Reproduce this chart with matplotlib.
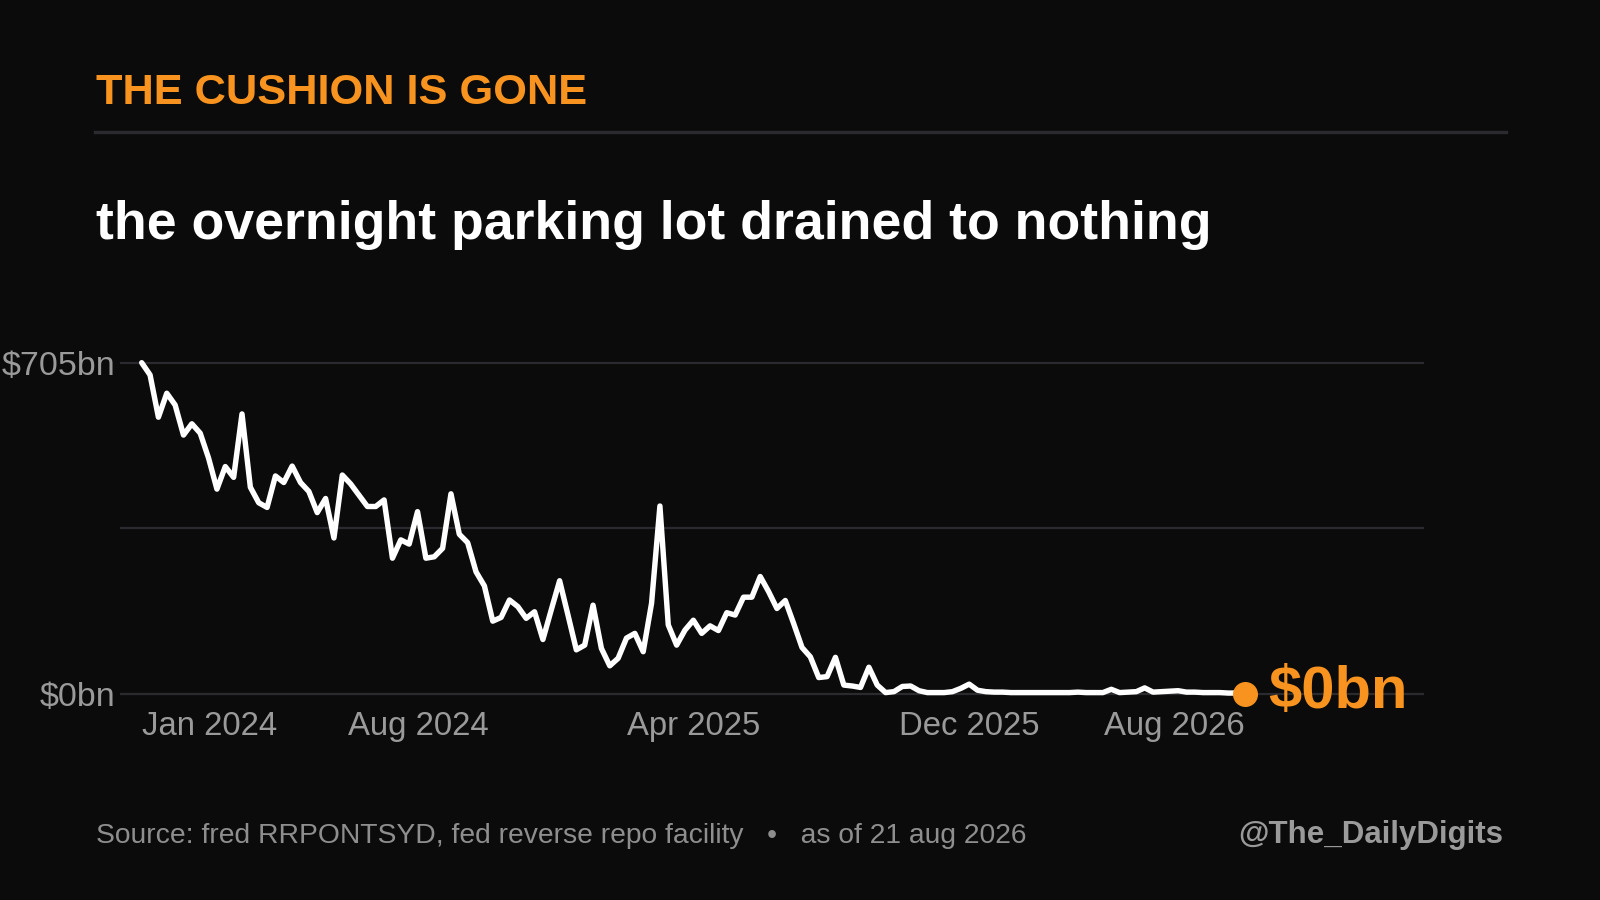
import numpy as np
import pandas as pd
import matplotlib
matplotlib.use("Agg")
import matplotlib.pyplot as plt
import matplotlib.transforms as mtransforms

plt.rcParams['font.family'] = ['Liberation Sans', 'DejaVu Sans']

# --- data: weekly overnight reverse repo balance, $bn ---
start_date = "2023-12-01"
end_date = "2026-08-01"
rrp_bn = [
    705, 679, 589, 640, 615, 551, 575, 555, 502, 436,
    484, 461, 596, 440, 407, 397, 464, 450, 485, 450,
    431, 386, 416, 332, 466, 447, 423, 399, 399, 413,
    289, 328, 319, 388, 289, 292, 310, 426, 340, 322,
    260, 230, 155, 163, 200, 186, 161, 175, 116, 179,
    241, 168, 94, 104, 189, 97, 60, 76, 119, 129,
    90, 193, 400, 147, 104, 136, 157, 129, 145, 135,
    173, 168, 206, 206, 250, 218, 182, 199, 150, 99,
    79, 35, 37, 78, 19, 17, 14, 57, 19, 3,
    5, 16, 17, 7, 3, 3, 3, 5, 12, 21,
    8, 5, 4, 4, 3, 3, 3, 3, 3, 3,
    3, 3, 4, 3, 3, 3, 10, 3, 4, 5,
    13, 4, 5, 6, 7, 4, 4, 3, 3, 3,
    2, 2, 0,
]
dates = pd.date_range(start_date, end_date, periods=len(rrp_bn))

tick_dates = pd.to_datetime(["2023-12-01", "2024-08-01", "2025-04-01", "2025-12-01", "2026-08-01"])
tick_labels = ["Jan 2024", "Aug 2024", "Apr 2025", "Dec 2025", "Aug 2026"]
y_ticks = [0, 352.5, 705]
y_tick_labels = ["$0bn", "", "$705bn"]

title = "THE CUSHION IS GONE"
subtitle = "the overnight parking lot drained to nothing"
source = "Source: fred RRPONTSYD, fed reverse repo facility   \u2022   as of 21 aug 2026"
handle = "@The_DailyDigits"

BG = "#0b0b0b"
ORANGE = "#f7931e"
GRID = "#2b2b2f"
TICK = "#9a9a9a"
FOOT = "#8e8e8e"

W, H = 1600, 900
fig = plt.figure(figsize=(16, 9), dpi=100, facecolor=BG)

# axes placed in pixel terms: gridlines span x 120..1424, y 0 -> px 694, 705 -> px 362.7
ax = fig.add_axes([120 / W, 1 - 720 / H, (1424 - 120) / W, (720 - 300) / H])
ax.set_facecolor(BG)

px_per_unit = (694 - 362.7) / 705
ax.set_ylim(-(720 - 694) / px_per_unit, 705 + (362.7 - 300) / px_per_unit)

d0, d1 = dates[0], dates[-1]
span_days = (d1 - d0).days
px_per_day = (1245 - 141.7) / span_days
ax.set_xlim(d0 - pd.Timedelta(days=(141.7 - 120) / px_per_day),
            d1 + pd.Timedelta(days=(1424 - 1245) / px_per_day))

for s in ax.spines.values():
    s.set_visible(False)

ax.set_yticks(y_ticks)
ax.set_yticklabels(y_tick_labels, color=TICK, fontsize=24.5)
ax.tick_params(axis="y", length=0, pad=3.6)
ax.grid(axis="y", color=GRID, linewidth=1.6)
ax.set_axisbelow(True)
ax.set_xticks([])

# x labels, first/last anchored to the data ends
xtrans = mtransforms.blended_transform_factory(ax.transData, fig.transFigure)
for i, (d, lab) in enumerate(zip(tick_dates, tick_labels)):
    ha = "left" if i == 0 else ("right" if i == len(tick_labels) - 1 else "center")
    ax.text(d, 1 - 735 / H, lab, transform=xtrans, ha=ha, va="baseline",
            color=TICK, fontsize=23.7)

ax.plot(dates, rrp_bn, color="white", linewidth=3.9, solid_capstyle="round",
        clip_on=False, zorder=3)
ax.plot([dates[-1]], [rrp_bn[-1]], "o", color=ORANGE, markersize=17,
        clip_on=False, zorder=4)
ax.text(1268 / W, 1 - 708.3 / H, f"${rrp_bn[-1]}bn", transform=fig.transFigure,
        ha="left", va="baseline", color=ORANGE, fontsize=43, fontweight="bold")

# header
fig.text(96 / W, 1 - 103.8 / H, title, color=ORANGE, fontsize=31.2,
         fontweight="bold", ha="left", va="baseline")
fig.add_artist(plt.Line2D([95 / W, 1506 / W], [1 - 131.7 / H, 1 - 131.7 / H],
                          color=GRID, linewidth=2.4))
fig.text(96 / W, 1 - 239 / H, subtitle, color="white", fontsize=38.6,
         fontweight="bold", ha="left", va="baseline")

# footer
fig.text(96 / W, 1 - 843.3 / H, source, color=FOOT, fontsize=20.3,
         ha="left", va="baseline")
fig.text(1503 / W, 1 - 843.3 / H, handle, color=TICK, fontsize=22.5,
         fontweight="bold", ha="right", va="baseline")

fig.savefig("out.png", dpi=100, facecolor=BG)
